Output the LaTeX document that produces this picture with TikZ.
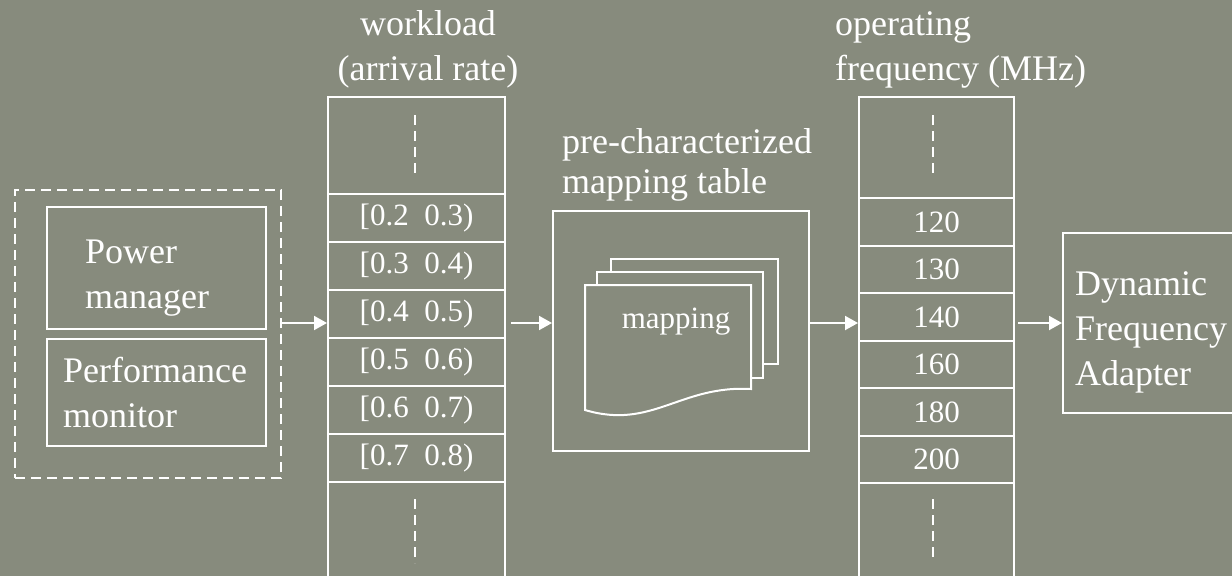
\documentclass[tikz,border=0pt]{standalone}
\usepackage{fontspec}
\setmainfont{Liberation Serif}
\usetikzlibrary{arrows.meta,calc,positioning}
\definecolor{slate}{RGB}{135,139,125}
\newcommand\mainsize{\fontsize{36}{45}\selectfont}
\newcommand\cellsize{\fontsize{31}{37}\selectfont}

\begin{document}
\begin{tikzpicture}[x=1pt,y=-1pt,
  box/.style={draw=white,line width=2pt,inner sep=0pt},
  cell/.style={text=white,font=\cellsize,inner sep=0pt},
  lbl/.style={text=white,font=\mainsize,align=left,inner sep=0pt},
  gapline/.style={draw=white,line width=2pt,dash pattern=on 10pt off 6pt},
  flow/.style={draw=white,line width=2pt,-{Triangle[length=13pt,width=14pt]}}]
  \useasboundingbox (0,0) rectangle (1232,576);
  \fill[slate] (0,0) rectangle (1232,576);
  \clip (0,0) rectangle (1232,576);
  \coordinate (lvl) at (0,323);

  % controller group
  \node[box,gapline,minimum width=266pt,minimum height=288pt] (grp) at (148,334) {};
  \node[box,minimum width=219pt,minimum height=122pt] (pm) at (156.5,268) {};
  \node[box,minimum width=219pt,minimum height=107pt] (pf) at (156.5,392.5) {};
  \node[lbl,anchor=base west] (pmtxt) at (85,308) {Power\\manager};
  \node[lbl,anchor=base west] (pftxt) at (63,427) {Performance\\monitor};

  % workload column
  \node[lbl,align=center,anchor=base] (wltxt) at (428,80) {workload\\(arrival rate)};
  \node[box,minimum width=177pt,minimum height=503pt] (wl) at (416.5,348.5) {};
  \foreach \k in {0,...,6}
    \draw[box] (328,{194+48*\k}) -- (505,{194+48*\k});
  \foreach \a/\b [count=\i] in {0.2/0.3,0.3/0.4,0.4/0.5,0.5/0.6,0.6/0.7,0.7/0.8}
    \node[cell] (w\i) at (416.5,{170+48*\i}) {[\a\ \ \b)};
  \draw[gapline] (415,115) -- (415,178);
  \draw[gapline] (415,499) -- (415,563);

  % mapping table
  \node[lbl,anchor=base west,font=\fontsize{36}{40}\selectfont] (mttxt) at (562,193) {pre-characterized\\mapping table};
  \node[box,minimum width=256pt,minimum height=240pt] (mt) at (681,331) {};
  \draw[box,fill=slate] (611,259) rectangle (778,364);
  \draw[box,fill=slate] (597,272) rectangle (763,378);
  \draw[box,fill=slate] (585,285) -- (751,285) -- (751,389)
    .. controls (680,385) and (652,430) .. (585,410) -- cycle;
  \node[cell,anchor=base] (mptxt) at (676,328) {mapping};

  % frequency column
  \node[lbl,anchor=base west] (fqtxt) at (835,80) {operating\\frequency (MHz)};
  \node[box,minimum width=155pt,minimum height=503pt] (fq) at (936.5,348.5) {};
  \foreach \k in {0,...,6}
    \draw[box] (859,{198+47.5*\k}) -- (1014,{198+47.5*\k});
  \foreach \f [count=\i] in {120,130,140,160,180,200}
    \node[cell] (f\i) at (936.5,{174.5+47.5*\i}) {\f};
  \draw[gapline] (933,115) -- (933,178);
  \draw[gapline] (933,499) -- (933,562);

  % adapter
  \node[box,minimum width=227pt,minimum height=180pt] (dfa) at (1176.5,323) {};
  \node[lbl,anchor=base west] (dfatxt) at (1075,385) {Dynamic\\Frequency\\Adapter};

  % flow
  \draw[flow] (grp.east |- lvl) -- (wl.west |- lvl);
  \draw[flow] ([xshift=5pt]wl.east |- lvl) -- (mt.west |- lvl);
  \draw[flow] (mt.east |- lvl) -- (fq.west |- lvl);
  \draw[flow] ([xshift=3pt]fq.east |- lvl) -- (dfa.west);
\end{tikzpicture}
\end{document}
